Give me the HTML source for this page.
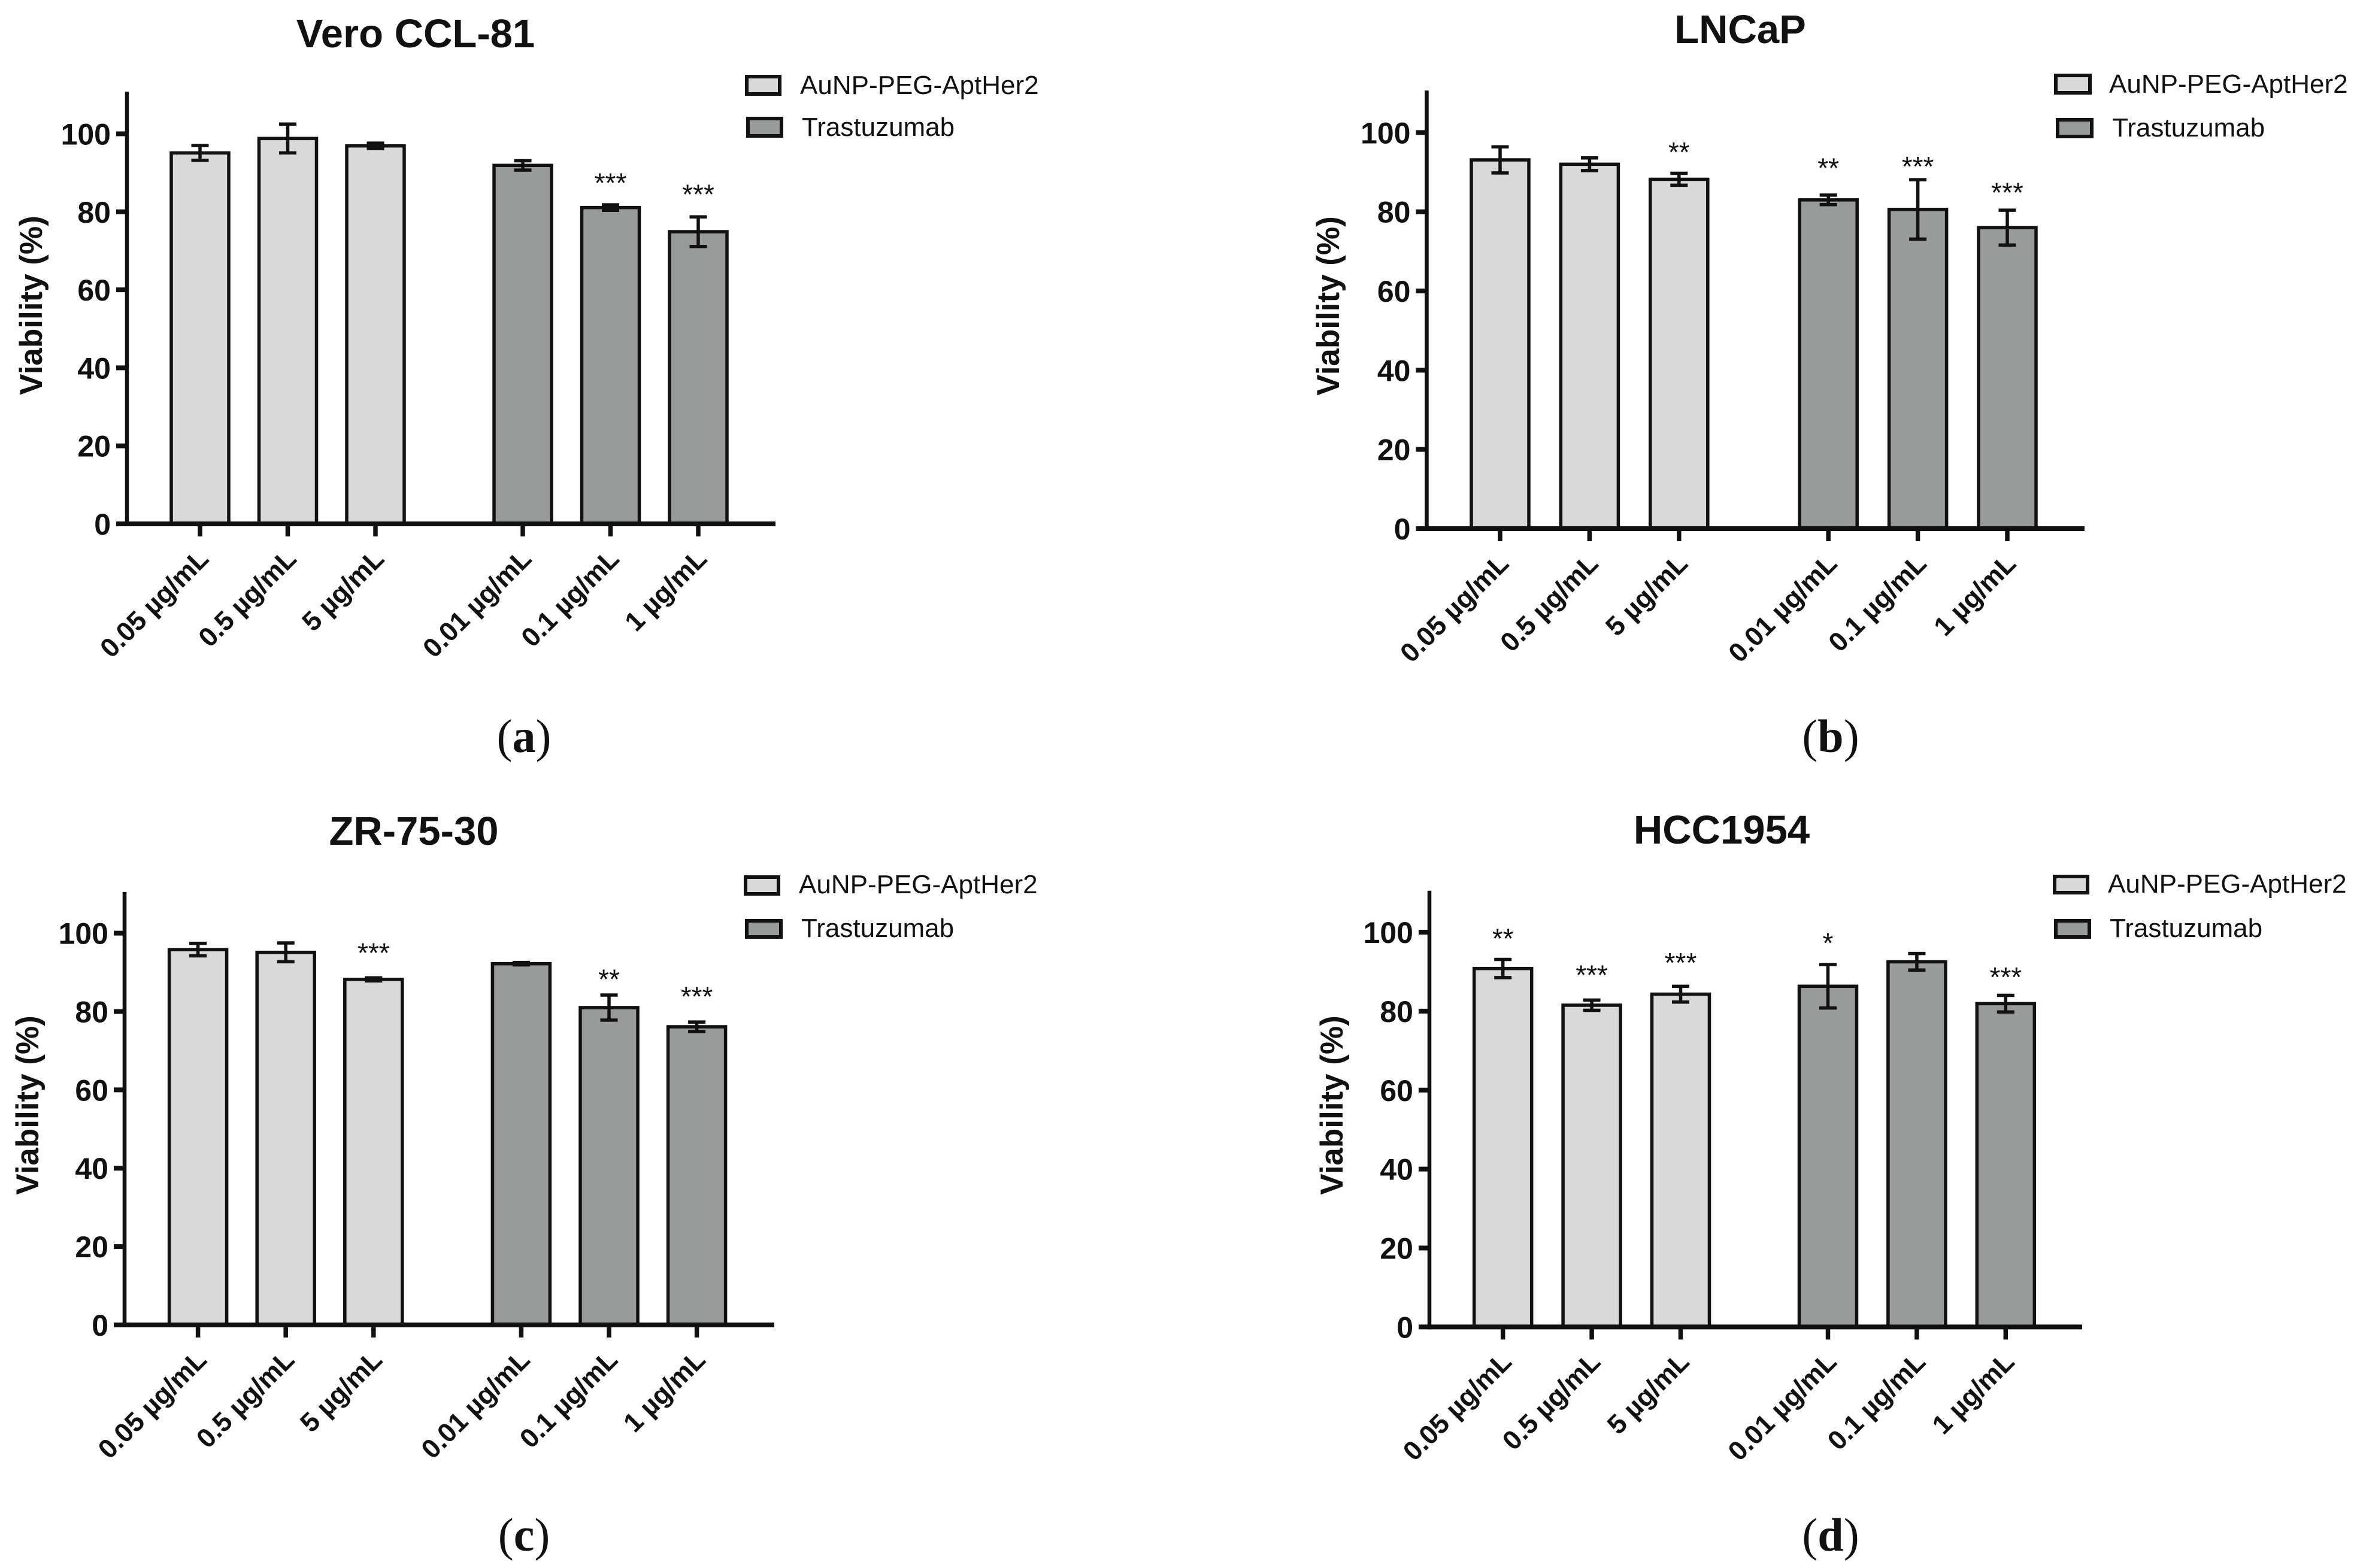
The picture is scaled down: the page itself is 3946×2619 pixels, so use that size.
<!DOCTYPE html>
<html lang="en">
<head>
<meta charset="utf-8">
<title>Cell viability charts</title>
<style>
html,body{margin:0;padding:0;background:#fefefe;}
svg{display:block;}
text{font-family:"Liberation Sans",Arial,sans-serif;fill:#111;}
.title{font-weight:bold;font-size:67px;text-anchor:middle;}
.ytitle{font-weight:bold;font-size:53px;text-anchor:middle;}
.legend{font-size:44px;}
.letter{font-family:"Liberation Serif",serif;font-size:78px;text-anchor:middle;}
.letter tspan{font-weight:bold;}
.ytick{font-weight:bold;font-size:50px;text-anchor:end;}
.xtick{font-weight:bold;font-size:45px;text-anchor:end;}
.star{font-size:46px;text-anchor:middle;}
.swatch{stroke:#111;stroke-width:6;}
</style>
</head>
<body>
<svg id="figure" xmlns="http://www.w3.org/2000/svg" width="3946" height="2619" viewBox="0 0 3946 2619">
  <rect x="0" y="0" width="3946" height="2619" fill="#fefefe"/>

  <g id="panel-a">
    <text class="title" x="694" y="79">Vero CCL-81</text>
    <text class="ytitle" transform="translate(70,510) rotate(-90)">Viability (%)</text>
    <rect class="swatch" x="1247" y="128" width="55" height="29" fill="#d9d9d9"/>
    <text class="legend" x="1336" y="157">AuNP-PEG-AptHer2</text>
    <rect class="swatch" x="1249" y="198" width="56" height="29" fill="#999b9a"/>
    <text class="legend" x="1339" y="227">Trastuzumab</text>
    <text class="letter" x="875" y="1256">(<tspan>a</tspan>)</text>
  </g>

  <g id="panel-b">
    <text class="title" x="2906" y="72">LNCaP</text>
    <text class="ytitle" transform="translate(2236,511) rotate(-90)">Viability (%)</text>
    <rect class="swatch" x="3433" y="126" width="57" height="29" fill="#d9d9d9"/>
    <text class="legend" x="3522" y="155">AuNP-PEG-AptHer2</text>
    <rect class="swatch" x="3436" y="200" width="57" height="28" fill="#999b9a"/>
    <text class="legend" x="3527" y="228">Trastuzumab</text>
    <text class="letter" x="3057" y="1256">(<tspan>b</tspan>)</text>
  </g>

  <g id="panel-c">
    <text class="title" x="691" y="1411">ZR-75-30</text>
    <text class="ytitle" transform="translate(64,1846) rotate(-90)">Viability (%)</text>
    <rect class="swatch" x="1245" y="1465" width="55" height="28" fill="#d9d9d9"/>
    <text class="legend" x="1334" y="1492">AuNP-PEG-AptHer2</text>
    <rect class="swatch" x="1247" y="1538" width="57" height="27" fill="#999b9a"/>
    <text class="legend" x="1338" y="1565">Trastuzumab</text>
    <text class="letter" x="875" y="2590">(<tspan>c</tspan>)</text>
  </g>

  <g id="panel-d">
    <text class="title" x="2875" y="1409">HCC1954</text>
    <text class="ytitle" transform="translate(2242,1846) rotate(-90)">Viability (%)</text>
    <rect class="swatch" x="3431" y="1464" width="55" height="27" fill="#d9d9d9"/>
    <text class="legend" x="3520" y="1491">AuNP-PEG-AptHer2</text>
    <rect class="swatch" x="3433" y="1538" width="56" height="27" fill="#999b9a"/>
    <text class="legend" x="3523" y="1565">Trastuzumab</text>
    <text class="letter" x="3057" y="2590">(<tspan>d</tspan>)</text>
  </g>
</svg>

<script>
const categories = ["0.05 µg/mL", "0.5 µg/mL", "5 µg/mL", "0.01 µg/mL", "0.1 µg/mL", "1 µg/mL"];
const seriesOfCategory = [0, 0, 0, 1, 1, 1];
const yTickValues = [0, 20, 40, 60, 80, 100];
const seriesFills = ["#d9d9d9", "#999b9a"];

const veroValues = [95.1, 98.8, 96.9, 91.9, 81.1, 74.9];
const veroErrors = [1.9, 3.7, 0.7, 1.2, 0.7, 3.8];
const veroStars = ["", "", "", "", "***", "***"];
const veroStarLevels = [0, 0, 0, 0, 88.2, 85.3];

const lncapValues = [93.1, 92, 88.2, 83, 80.6, 76];
const lncapErrors = [3.3, 1.6, 1.5, 1.2, 7.5, 4.4];
const lncapStars = ["", "", "**", "**", "***", "***"];
const lncapStarLevels = [0, 0, 95.8, 91.8, 92.2, 85.6];

const zrValues = [95.8, 95.1, 88.2, 92.2, 81, 76.1];
const zrErrors = [1.6, 2.4, 0.4, 0.3, 3.2, 1.2];
const zrStars = ["", "", "***", "", "**", "***"];
const zrStarLevels = [0, 0, 95.7, 0, 89, 84.6];

const hccValues = [90.8, 81.5, 84.3, 86.3, 92.5, 81.9];
const hccErrors = [2.3, 1.3, 2, 5.5, 2.1, 2.1];
const hccStars = ["**", "***", "***", "*", "", "***"];
const hccStarLevels = [99.2, 89.9, 93, 98, 0, 89.4];

const SVG_NS = "http://www.w3.org/2000/svg";

function make(parent, tag, attrs, text) {
  const node = document.createElementNS(SVG_NS, tag);
  Object.keys(attrs).forEach(function (k) { node.setAttribute(k, attrs[k]); });
  if (text !== undefined) node.textContent = text;
  parent.appendChild(node);
  return node;
}

function drawPanel(groupId, frame, values, errors, stars, starLevels) {
  const group = document.getElementById(groupId);
  const yScale = function (v) { return frame.y0 - v * frame.pxPerUnit; };
  const xScale = function (i) {
    return frame.x0 + i * frame.step + (seriesOfCategory[i] === 1 ? frame.gap : 0);
  };
  const barW = 96;
  const capW = 29;

  values.forEach(function (v, i) {
    const cx = xScale(i);
    const bar = make(group, "rect", {
      x: cx - barW / 2, y: yScale(v), width: barW, height: frame.y0 - yScale(v),
      fill: seriesFills[seriesOfCategory[i]], stroke: "#111", "stroke-width": 5.5
    });
    
    

    const hi = yScale(v + errors[i]);
    const lo = yScale(v - errors[i]);
    const err = make(group, "path", {
      d: "M" + (cx - capW / 2) + " " + hi + "H" + (cx + capW / 2) +
         "M" + cx + " " + hi + "V" + lo +
         "M" + (cx - capW / 2) + " " + lo + "H" + (cx + capW / 2),
      fill: "none", stroke: "#111", "stroke-width": 5.5
    });
    
    

    if (stars[i]) {
      const star = make(group, "text", {
        "class": "star", x: cx, y: yScale(starLevels[i]) + 21
      }, stars[i]);
      
      
    }

    const xTick = make(group, "line", {
      x1: cx, x2: cx, y1: frame.y0, y2: frame.y0 + 21, stroke: "#111", "stroke-width": 7.5
    });
    
    

    const lx = cx + 17;
    const ly = frame.y0 + 61;
    const xLabel = make(group, "text", {
      "class": "xtick", x: lx, y: ly, transform: "rotate(-45 " + lx + " " + ly + ")"
    }, categories[i]);
    
    
  });

  const yAxis = make(group, "line", {
    x1: frame.axisX, x2: frame.axisX, y1: yScale(frame.yMax), y2: frame.y0 + 4,
    stroke: "#111", "stroke-width": 6.5
  });
  
  

  const xAxis = make(group, "line", {
    x1: frame.axisX - 18, x2: frame.axisRight, y1: frame.y0, y2: frame.y0,
    stroke: "#111", "stroke-width": 8
  });
  
  

  yTickValues.forEach(function (t) {
    const y = yScale(t);
    if (t !== 0) {
      const yTick = make(group, "line", {
        x1: frame.axisX - 18, x2: frame.axisX, y1: y, y2: y, stroke: "#111", "stroke-width": 8
      });
      
      
    }
    const yLabel = make(group, "text", {
      "class": "ytick", x: frame.axisX - 27, y: y + 18
    }, String(t));
    
    
  });
}

drawPanel("panel-a", { x0: 334, step: 146.5, gap: 99.5, y0: 875, pxPerUnit: 6.515, yMax: 110.8, axisX: 212, axisRight: 1295 },
  veroValues, veroErrors, veroStars, veroStarLevels);
drawPanel("panel-b", { x0: 2505, step: 149.4, gap: 100, y0: 883, pxPerUnit: 6.616, yMax: 110.6, axisX: 2382.5, axisRight: 3481 },
  lncapValues, lncapErrors, lncapStars, lncapStarLevels);
drawPanel("panel-c", { x0: 330.6, step: 146.6, gap: 100, y0: 2213, pxPerUnit: 6.544, yMax: 110.5, axisX: 208, axisRight: 1293 },
  zrValues, zrErrors, zrStars, zrStarLevels);
drawPanel("panel-d", { x0: 2509.7, step: 148.4, gap: 97.6, y0: 2216.4, pxPerUnit: 6.594, yMax: 110.5, axisX: 2387, axisRight: 3477 },
  hccValues, hccErrors, hccStars, hccStarLevels);
</script>
</body>
</html>
